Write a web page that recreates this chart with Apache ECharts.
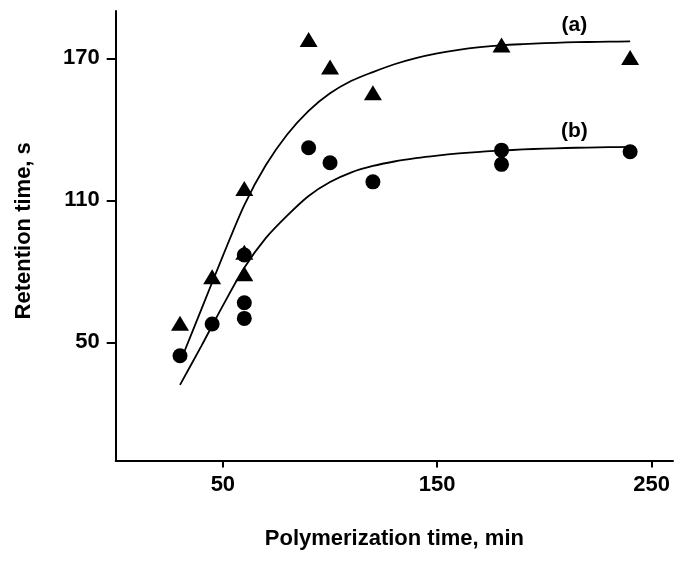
<!DOCTYPE html>
<html>
<head>
<meta charset="utf-8">
<script src="https://cdn.jsdelivr.net/npm/echarts@6/dist/echarts.min.js"></script>
<style>html,body{margin:0;padding:0;background:#fff}#c{width:684px;height:561px}</style>
</head>
<body>
<div id="c"></div>
<script>
// Data
const pointsA = [[30,58],[45,77.7],[60,115],[60,88],[60,79],[90,178],[100,166.3],[120,155.5],[180,175.6],[240,170.3]];
const pointsB = [[30,44.3],[45,57.7],[60,86.9],[60,66.7],[60,60.1],[90,132.2],[100,125.9],[120,117.8],[180,131.2],[180,125.2],[240,130.5]];
const curveAx = [32,40,50,60,70,80,90,100,110,120,130,140,150,160,170,180,190,200,210,220,230,240];
const curveAy = [46,64,86.5,108,124.8,137.8,147.8,155.2,160.5,164.2,167.5,170.1,172.1,173.6,174.7,175.5,176,176.4,176.7,176.9,177.05,177.15];
const curveBx = [30,40,50,60,70,80,90,100,110,120,130,140,150,160,170,180,190,200,210,220,230,240];
const curveBy = [32,48.5,65.5,81.5,94,103.5,111.8,117.7,121.8,124.5,126.4,127.8,128.9,129.8,130.5,131,131.5,131.85,132.1,132.3,132.45,132.6];
const curveLabels = [[214,184,'(a)'],[214,139,'(b)']];
const xTicks = [50,150,250];
const yTicks = [50,110,170];
const xTitle = 'Polymerization time, min';
const yTitle = 'Retention time, s';

const zip = (xs, ys) => xs.map((x, i) => [x, ys[i]]);
const FONT = '"Liberation Sans", Arial, sans-serif';
const chart = echarts.init(document.getElementById('c'), null, {renderer:'canvas'});
chart.setOption({
  backgroundColor:'#fff',
  animation:false,
  grid:{left:115.7,right:11,top:11,bottom:100.4,containLabel:false},
  xAxis:{
    type:'value',min:0,max:260,
    name:xTitle,nameLocation:'middle',nameGap:67,
    nameTextStyle:{fontFamily:FONT,fontWeight:'bold',fontSize:22,color:'#000'},
    axisLine:{lineStyle:{color:'#000',width:2}},
    axisTick:{show:true,inside:false,length:7,lineStyle:{color:'#000',width:2},customValues:xTicks},
    axisLabel:{fontFamily:FONT,fontWeight:'bold',fontSize:22,color:'#000',margin:13,customValues:xTicks},
    splitLine:{show:false}
  },
  yAxis:{
    type:'value',min:0,max:190,
    name:yTitle,nameLocation:'middle',nameGap:81,
    nameTextStyle:{fontFamily:FONT,fontWeight:'bold',fontSize:22,color:'#000',padding:[0,0,0,10]},
    axisLine:{show:true,lineStyle:{color:'#000',width:2}},
    axisTick:{show:true,inside:false,length:9,lineStyle:{color:'#000',width:2},customValues:yTicks},
    axisLabel:{fontFamily:FONT,fontWeight:'bold',fontSize:22,color:'#000',margin:16,customValues:yTicks},
    splitLine:{show:false}
  },
  series:[
    {type:'line',data:zip(curveAx,curveAy),smooth:0.3,showSymbol:false,symbol:'none',lineStyle:{color:'#000',width:1.8},z:2},
    {type:'line',data:zip(curveBx,curveBy),smooth:0.3,showSymbol:false,symbol:'none',lineStyle:{color:'#000',width:1.8},z:2},
    {type:'scatter',data:pointsB,symbol:'circle',symbolSize:15,itemStyle:{color:'#000',opacity:1},z:3},
    {type:'scatter',data:pointsA,symbol:'triangle',symbolSize:[18,15],itemStyle:{color:'#000',opacity:1},z:4},
    {type:'scatter',data:curveLabels,symbolSize:0,z:5,itemStyle:{opacity:1},
      label:{show:true,position:'inside',formatter:p=>p.value[2],fontFamily:FONT,fontWeight:'bold',fontSize:21,color:'#000'}}
  ]
});
</script>
</body>
</html>
